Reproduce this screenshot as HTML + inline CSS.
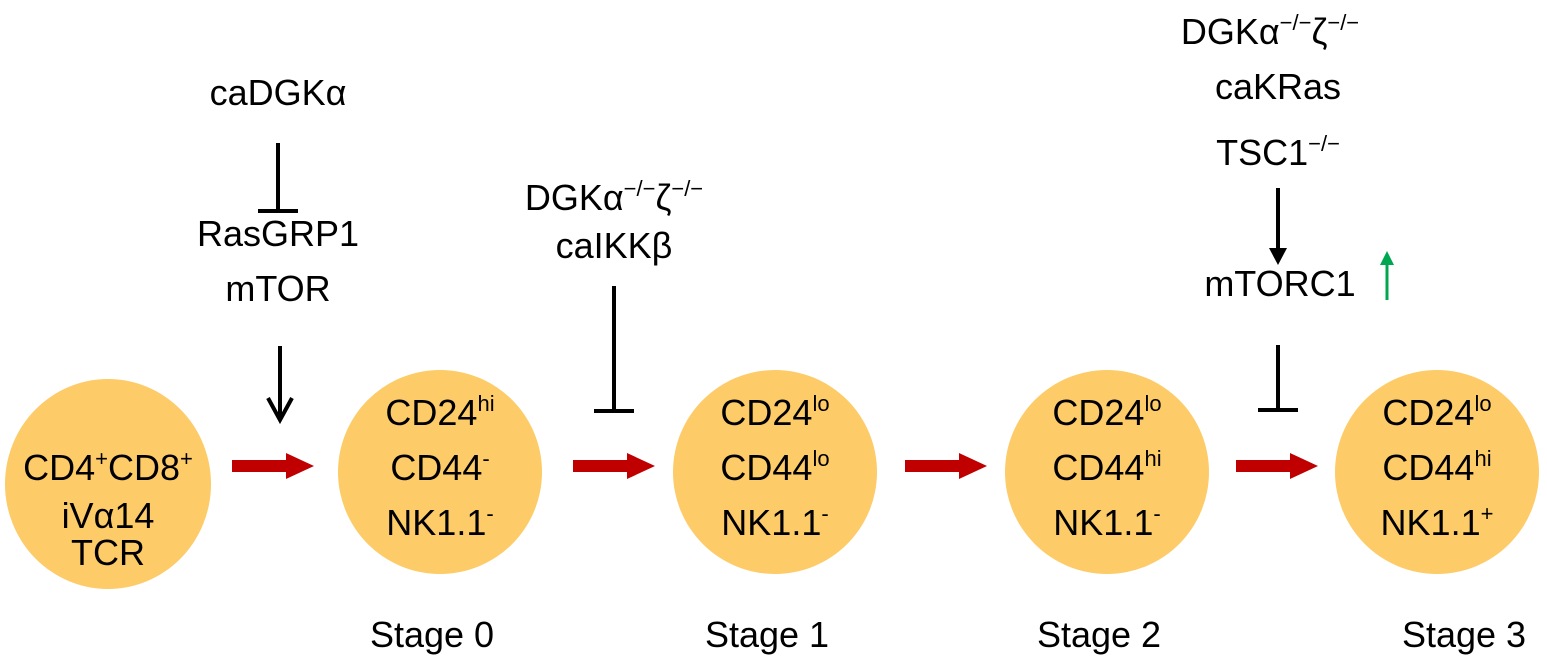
<!DOCTYPE html>
<html><head><meta charset="utf-8"><style>
html,body{margin:0;padding:0;background:#fff;}
svg{display:block;}
text{font-family:"Liberation Sans","DejaVu Sans",sans-serif;fill:#000;}
</style></head><body>
<svg width="1547" height="667" viewBox="0 0 1547 667" xmlns="http://www.w3.org/2000/svg">
<g fill="#fdcb68">
<ellipse cx="108" cy="484" rx="103" ry="105"/>
<ellipse cx="440" cy="472" rx="102" ry="102"/>
<ellipse cx="775" cy="472" rx="102" ry="102"/>
<ellipse cx="1107" cy="472" rx="102" ry="102"/>
<ellipse cx="1437" cy="472" rx="102" ry="102"/>
</g>
<g fill="#c00000">
<rect x="232" y="460" width="56" height="12"/><polygon points="286,453 314,466 286,479"/>
<rect x="573" y="460" width="56" height="12"/><polygon points="627,453 655,466 627,479"/>
<rect x="905" y="460" width="56" height="12"/><polygon points="959,453 987,466 959,479"/>
<rect x="1236" y="460" width="56" height="12"/><polygon points="1290,453 1318,466 1290,479"/>
</g>
<g stroke="#000" stroke-width="4" fill="none">
<line x1="278" y1="143" x2="278" y2="211"/><line x1="258" y1="211" x2="298" y2="211"/>
<line x1="280" y1="346" x2="280" y2="418"/><polyline points="268,398 280,420 292,398"/>
<line x1="614" y1="286" x2="614" y2="411"/><line x1="594" y1="411" x2="634" y2="411"/>
<line x1="1278" y1="188" x2="1278" y2="250"/>
<line x1="1278" y1="345" x2="1278" y2="410"/><line x1="1258" y1="410" x2="1298" y2="410"/>
</g>
<polygon points="1269,248 1287,248 1278,265" fill="#000"/>
<line x1="1387" y1="300" x2="1387" y2="262" stroke="#00a650" stroke-width="3"/>
<polygon points="1380,265 1394,265 1387,251" fill="#00a650"/>
<g font-size="36" text-anchor="middle">
<text x="278" y="105">caDGKα</text>
<text x="278" y="246">RasGRP1</text>
<text x="278" y="301">mTOR</text>
<text x="614" y="210">DGKα<tspan font-size="22" dy="-14">−/−</tspan><tspan dy="14">ζ</tspan><tspan font-size="22" dy="-14">−/−</tspan></text>
<text x="614" y="258">caIKKβ</text>
<text x="1270" y="44">DGKα<tspan font-size="22" dy="-14">−/−</tspan><tspan dy="14">ζ</tspan><tspan font-size="22" dy="-14">−/−</tspan></text>
<text x="1278" y="99">caKRas</text>
<text x="1278" y="165">TSC1<tspan font-size="22" dy="-14">−/−</tspan></text>
<text x="1280" y="296">mTORC1</text>
<text x="108" y="480">CD4<tspan font-size="22" dy="-14">+</tspan><tspan dy="14">CD8</tspan><tspan font-size="22" dy="-14">+</tspan></text>
<text x="108" y="528">iVα14</text>
<text x="108" y="565">TCR</text>
<text x="440" y="425">CD24<tspan font-size="22" dy="-14">hi</tspan></text>
<text x="440" y="480">CD44<tspan font-size="22" dy="-14">-</tspan></text>
<text x="440" y="535">NK1.1<tspan font-size="22" dy="-14">-</tspan></text>
<text x="775" y="425">CD24<tspan font-size="22" dy="-14">lo</tspan></text>
<text x="775" y="480">CD44<tspan font-size="22" dy="-14">lo</tspan></text>
<text x="775" y="535">NK1.1<tspan font-size="22" dy="-14">-</tspan></text>
<text x="1107" y="425">CD24<tspan font-size="22" dy="-14">lo</tspan></text>
<text x="1107" y="480">CD44<tspan font-size="22" dy="-14">hi</tspan></text>
<text x="1107" y="535">NK1.1<tspan font-size="22" dy="-14">-</tspan></text>
<text x="1437" y="425">CD24<tspan font-size="22" dy="-14">lo</tspan></text>
<text x="1437" y="480">CD44<tspan font-size="22" dy="-14">hi</tspan></text>
<text x="1437" y="535">NK1.1<tspan font-size="22" dy="-14">+</tspan></text>
<text x="432" y="647">Stage 0</text>
<text x="767" y="647">Stage 1</text>
<text x="1099" y="647">Stage 2</text>
<text x="1464" y="647">Stage 3</text>
</g>
</svg>
</body></html>
